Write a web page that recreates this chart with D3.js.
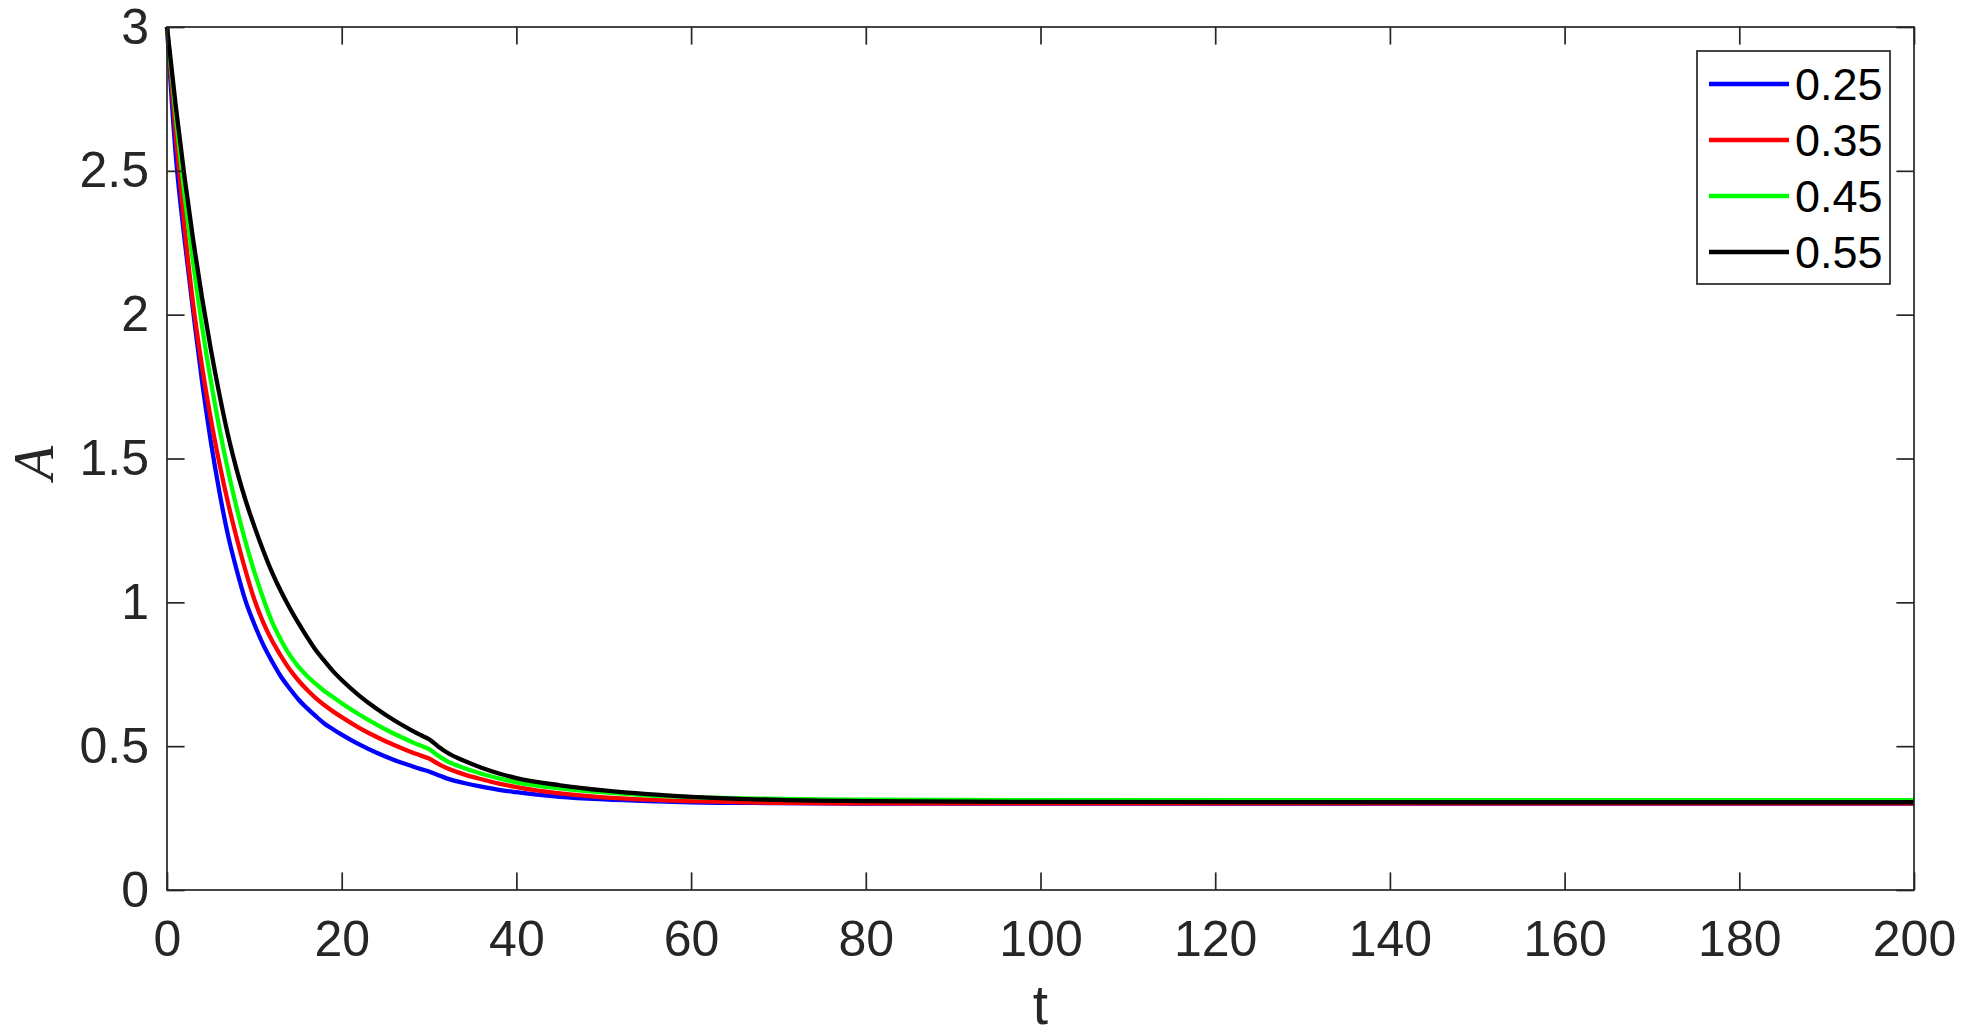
<!DOCTYPE html>
<html>
<head>
<meta charset="utf-8">
<script src="https://cdn.jsdelivr.net/npm/d3@7"></script>
<style>
  html, body { margin: 0; padding: 0; background: #fff; }
  svg { display: block; }
</style>
</head>
<body>
<svg id="chart" width="1965" height="1035"></svg>
<script>
// ---------- data ----------
const tValues = [0, 1, 2, 3, 4, 5, 6, 7, 8, 9, 10, 11, 12, 13, 14, 15, 16, 17, 18, 19, 20, 22, 24, 26, 28, 29, 30, 31, 32, 34, 36, 38, 40, 45, 50, 55, 60, 70, 80, 100, 150, 200];

const series025 = [3.000, 2.555, 2.264, 2.011, 1.770, 1.562, 1.384, 1.231, 1.110, 1.004, 0.924, 0.854, 0.796, 0.744, 0.702, 0.664, 0.633, 0.605, 0.579, 0.559, 0.540, 0.506, 0.477, 0.452, 0.431, 0.421, 0.412, 0.400, 0.388, 0.372, 0.359, 0.348, 0.340, 0.324, 0.315, 0.309, 0.305, 0.302, 0.300, 0.300, 0.300, 0.300];

const series035 = [3.000, 2.623, 2.305, 2.035, 1.822, 1.640, 1.483, 1.344, 1.221, 1.109, 1.010, 0.931, 0.868, 0.816, 0.769, 0.730, 0.697, 0.668, 0.643, 0.621, 0.601, 0.564, 0.532, 0.504, 0.479, 0.468, 0.457, 0.439, 0.424, 0.402, 0.385, 0.370, 0.358, 0.336, 0.322, 0.314, 0.309, 0.303, 0.301, 0.301, 0.301, 0.301];

const series045 = [3.000, 2.692, 2.418, 2.177, 1.962, 1.773, 1.605, 1.457, 1.325, 1.209, 1.106, 1.015, 0.934, 0.872, 0.819, 0.778, 0.745, 0.717, 0.692, 0.671, 0.649, 0.610, 0.575, 0.543, 0.515, 0.502, 0.490, 0.468, 0.449, 0.424, 0.404, 0.388, 0.374, 0.353, 0.339, 0.329, 0.323, 0.317, 0.314, 0.312, 0.312, 0.312];

const series055 = [3.000, 2.726, 2.480, 2.259, 2.061, 1.883, 1.723, 1.579, 1.458, 1.354, 1.264, 1.181, 1.106, 1.041, 0.983, 0.930, 0.881, 0.835, 0.797, 0.761, 0.730, 0.676, 0.630, 0.590, 0.555, 0.539, 0.524, 0.500, 0.479, 0.449, 0.425, 0.405, 0.389, 0.364, 0.346, 0.333, 0.324, 0.313, 0.309, 0.306, 0.305, 0.305];

const legendLabels = ["0.25", "0.35", "0.45", "0.55"];
const seriesColors = ["#0000ff", "#ff0000", "#00ff00", "#000000"];
const xTicks = [0, 20, 40, 60, 80, 100, 120, 140, 160, 180, 200];
const yTicks = [0, 0.5, 1, 1.5, 2, 2.5, 3];

// ---------- layout ----------
const plot = { left: 167, right: 1914, top: 27, bottom: 890 };
const axisColor = "#262626";
const tickLen = 17.6;
const fontFamily = "'Liberation Sans', Arial, Helvetica, sans-serif";

const svg = d3.select("#chart");

const x = d3.scaleLinear().domain([0, 200]).range([plot.left, plot.right]);
const y = d3.scaleLinear().domain([0, 3]).range([plot.bottom, plot.top]);

const allSeries = [series025, series035, series045, series055];

// ---------- lines ----------
const line = d3.line()
  .x((d, i) => x(tValues[i]))
  .y(d => y(d))
  .curve(d3.curveMonotoneX);

svg.append("g")
  .selectAll("path")
  .data(allSeries)
  .join("path")
  .attr("d", d => line(d))
  .attr("fill", "none")
  .attr("stroke", (d, i) => seriesColors[i])
  .attr("stroke-width", 4.3)
  .attr("stroke-linejoin", "round");

// ---------- axes ----------
function styleAxis(g) {
  g.select(".domain").remove();
  g.selectAll(".tick line").attr("stroke", axisColor).attr("stroke-width", 1.7);
  g.selectAll(".tick text")
    .attr("fill", axisColor)
    .style("font-family", fontFamily)
    .style("font-size", "50px");
}

svg.append("g")
  .attr("transform", `translate(0,${plot.bottom})`)
  .call(d3.axisBottom(x).tickValues(xTicks).tickFormat(d3.format("d"))
    .tickSizeInner(-tickLen).tickSizeOuter(0).tickPadding(30))
  .call(styleAxis);

svg.append("g")
  .attr("transform", `translate(0,${plot.top})`)
  .call(d3.axisTop(x).tickValues(xTicks).tickFormat("")
    .tickSizeInner(-tickLen).tickSizeOuter(0))
  .call(styleAxis);

svg.append("g")
  .attr("transform", `translate(${plot.left},0)`)
  .call(d3.axisLeft(y).tickValues(yTicks).tickFormat(d => String(d))
    .tickSizeInner(-tickLen).tickSizeOuter(0).tickPadding(18))
  .call(styleAxis);

svg.append("g")
  .attr("transform", `translate(${plot.right},0)`)
  .call(d3.axisRight(y).tickValues(yTicks).tickFormat("")
    .tickSizeInner(-tickLen).tickSizeOuter(0))
  .call(styleAxis);

// box
svg.append("rect")
  .attr("x", plot.left).attr("y", plot.top)
  .attr("width", plot.right - plot.left).attr("height", plot.bottom - plot.top)
  .attr("fill", "none").attr("stroke", axisColor).attr("stroke-width", 1.7);

// ---------- axis labels ----------
svg.append("text")
  .attr("x", (plot.left + plot.right) / 2)
  .attr("y", 1024)
  .attr("text-anchor", "middle")
  .attr("fill", axisColor)
  .style("font-family", fontFamily)
  .style("font-size", "55px")
  .text("t");

svg.append("text")
  .attr("transform", `translate(53,463) rotate(-90)`)
  .attr("text-anchor", "middle")
  .attr("fill", axisColor)
  .style("font-family", "'Liberation Serif', 'DejaVu Serif', 'Times New Roman', serif")
  .style("font-style", "italic")
  .style("font-size", "56px")
  .text("A");

// ---------- legend ----------
const legend = { x: 1697, y: 51, w: 193, h: 233, rowStart: 84, rowStep: 56 };
const lg = svg.append("g");
lg.append("rect")
  .attr("x", legend.x).attr("y", legend.y)
  .attr("width", legend.w).attr("height", legend.h)
  .attr("fill", "#fff").attr("stroke", axisColor).attr("stroke-width", 1.7);

const rows = lg.selectAll("g.row")
  .data(legendLabels)
  .join("g")
  .attr("class", "row")
  .attr("transform", (d, i) => `translate(0,${legend.rowStart + i * legend.rowStep})`);

rows.append("line")
  .attr("x1", 1709).attr("x2", 1789)
  .attr("y1", 0).attr("y2", 0)
  .attr("stroke", (d, i) => seriesColors[i])
  .attr("stroke-width", 4.3);

rows.append("text")
  .attr("x", 1795)
  .attr("y", 0)
  .attr("dy", "0.36em")
  .attr("fill", "#000")
  .style("font-family", fontFamily)
  .style("font-size", "45px")
  .text(d => d);
</script>
</body>
</html>
